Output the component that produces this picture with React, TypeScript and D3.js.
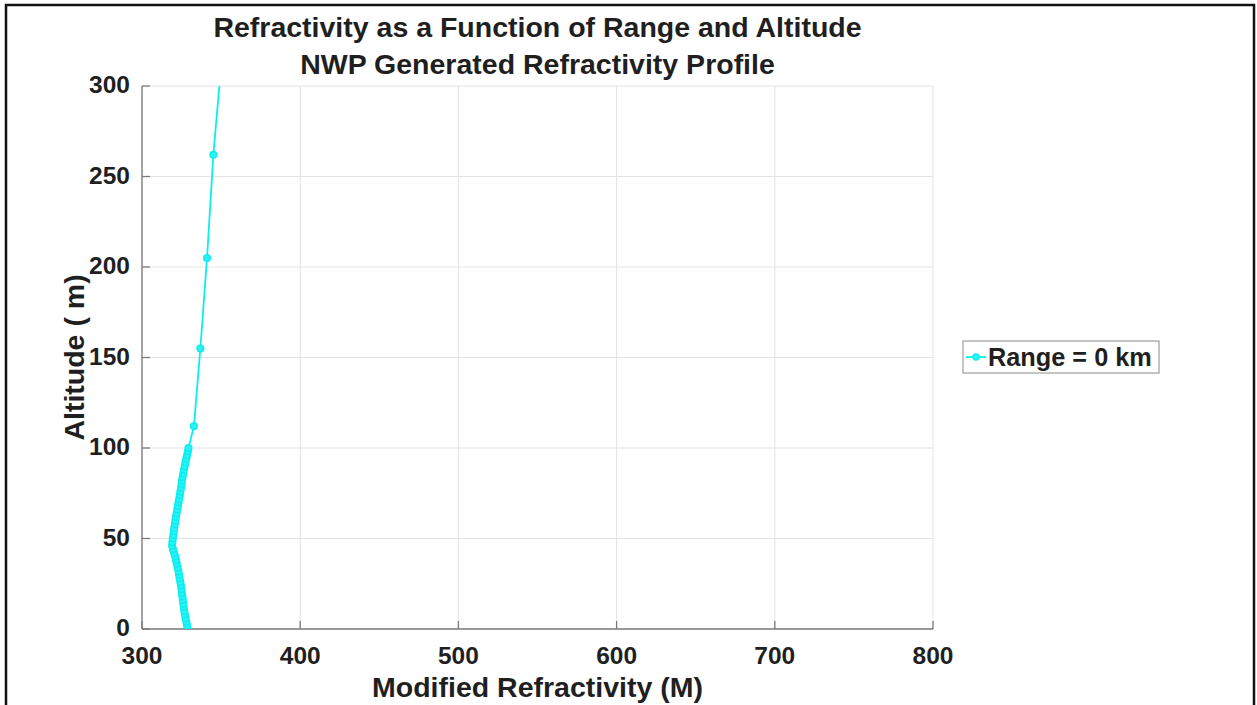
import React from "react";
import * as d3 from "d3";

// ---- Data ----
const altitudes: number[] = [
  0, 2, 4, 6, 8, 10, 12, 14, 16, 18, 20, 22, 24, 26, 28, 30, 32, 34, 36, 38, 40,
  42, 44, 46, 48, 50, 52, 54, 56, 58, 60, 62, 64, 66, 68, 70, 72, 74, 76, 78, 80,
  82, 84, 86, 88, 90, 92, 94, 96, 98, 100, 112, 155, 205, 262, 326,
];
const refractivity: number[] = [
  328.8, 328.5, 328.0, 327.5, 327.1, 326.7, 326.4, 326.1, 325.8, 325.5, 325.2,
  324.9, 324.6, 324.2, 323.8, 323.4, 323.0, 322.5, 322.0, 321.5, 321.0,
  320.3, 319.6, 319.0, 319.2, 319.5, 319.8, 320.1, 320.4, 320.8, 321.1,
  321.5, 321.9, 322.3, 322.7, 323.1, 323.5, 323.9, 324.3, 324.7, 325.0,
  325.3, 325.7, 326.1, 326.5, 327.0, 327.5, 328.0, 328.5, 329.0, 329.4,
  332.8, 336.9, 341.1, 345.1, 351.5,
];
const xTicks: number[] = [300, 400, 500, 600, 700, 800];
const yTicks: number[] = [0, 50, 100, 150, 200, 250, 300];
const titleLines: string[] = [
  "Refractivity as a Function of Range and Altitude",
  "NWP Generated Refractivity Profile",
];
const xLabel = "Modified Refractivity (M)";
const yLabel = "Altitude ( m)";
const legendLabel = "Range = 0 km";

const W = 1257;
const H = 705;
const plot = { left: 142, right: 933, top: 86, bottom: 629 };
const FONT = "'Liberation Sans', Arial, Helvetica, sans-serif";
const CYAN = "#0aeef2";
const MARKER_FILL = "#2ef1f4";
const TEXT = "#1f1f1f";

export default function App() {
  const x = d3.scaleLinear().domain([300, 800]).range([plot.left, plot.right]);
  const y = d3.scaleLinear().domain([0, 300]).range([plot.bottom, plot.top]);
  const pts = altitudes.map((a, i) => ({ a, m: refractivity[i] }));
  const line = d3
    .line<{ a: number; m: number }>()
    .x((d) => x(d.m))
    .y((d) => y(d.a));
  const cx = (plot.left + plot.right) / 2;
  const cy = (plot.top + plot.bottom) / 2;

  return (
    <svg
      width={W}
      height={H}
      style={{ position: "absolute", left: 0, top: 0, display: "block", background: "#fff" }}
      fontFamily={FONT}
    >
      <rect x={0} y={0} width={W} height={H} fill="#fff" />
      {/* outer frame */}
      <rect x={6} y={5} width={1248} height={760} fill="none" stroke="#111" strokeWidth={2.5} />

      <defs>
        <clipPath id="plotClip">
          <rect x={plot.left} y={plot.top} width={plot.right - plot.left} height={plot.bottom - plot.top} />
        </clipPath>
      </defs>

      {/* grid */}
      {xTicks.map((t) => (
        <line key={"gx" + t} x1={x(t)} x2={x(t)} y1={plot.top} y2={plot.bottom} stroke="#e3e3e3" strokeWidth={1} />
      ))}
      {yTicks.map((t) => (
        <line key={"gy" + t} x1={plot.left} x2={plot.right} y1={y(t)} y2={y(t)} stroke="#e3e3e3" strokeWidth={1} />
      ))}

      {/* axes */}
      <line x1={plot.left} x2={plot.left} y1={plot.top} y2={plot.bottom} stroke="#7a7a7a" strokeWidth={1.3} />
      <line x1={plot.left} x2={plot.right} y1={plot.bottom} y2={plot.bottom} stroke="#7a7a7a" strokeWidth={1.3} />
      {xTicks.map((t) => (
        <g key={"tx" + t}>
          <line x1={x(t)} x2={x(t)} y1={plot.bottom} y2={plot.bottom - 8} stroke="#7a7a7a" strokeWidth={1.3} />
          <text x={x(t)} y={664} textAnchor="middle" fontSize={24.5} fontWeight="bold" fill={TEXT}>
            {t}
          </text>
        </g>
      ))}
      {yTicks.map((t) => (
        <g key={"ty" + t}>
          <line x1={plot.left} x2={plot.left + 8} y1={y(t)} y2={y(t)} stroke="#7a7a7a" strokeWidth={1.3} />
          <text x={130} y={y(t) + 7} textAnchor="end" fontSize={24.5} fontWeight="bold" fill={TEXT}>
            {t}
          </text>
        </g>
      ))}

      {/* data */}
      <g clipPath="url(#plotClip)">
        <path d={line(pts) || ""} fill="none" stroke={CYAN} strokeWidth={1.8} />
        {pts.map((d, i) => (
          <circle key={i} cx={x(d.m)} cy={y(d.a)} r={3.3} fill={MARKER_FILL} stroke={CYAN} strokeWidth={1.5} />
        ))}
      </g>

      {/* titles */}
      {titleLines.map((t, i) => (
        <text key={t} x={cx} y={36.5 + i * 37.5} textAnchor="middle" fontSize={28.5} fontWeight="bold" fill={TEXT}>
          {t}
        </text>
      ))}
      <text x={cx} y={697} textAnchor="middle" fontSize={28.5} fontWeight="bold" fill={TEXT}>
        {xLabel}
      </text>
      <text
        transform={`translate(84,${cy}) rotate(-90)`}
        textAnchor="middle"
        fontSize={28.5}
        fontWeight="bold"
        fill={TEXT}
      >
        {yLabel}
      </text>

      {/* legend */}
      <rect x={963} y={341} width={196} height={32} fill="#fff" stroke="#8a8a8a" strokeWidth={1} />
      <line x1={966} x2={986} y1={357} y2={357} stroke={CYAN} strokeWidth={1.8} />
      <circle cx={976} cy={357} r={3} fill={MARKER_FILL} stroke={CYAN} strokeWidth={1.4} />
      <text x={988} y={366} fontSize={25.3} fontWeight="bold" fill={TEXT}>
        {legendLabel}
      </text>
    </svg>
  );
}
